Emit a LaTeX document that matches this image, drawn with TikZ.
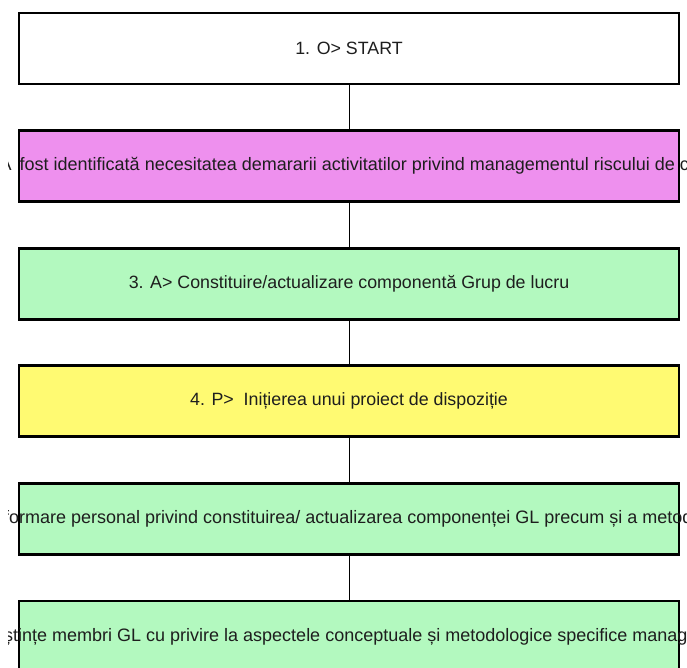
\documentclass[tikz,border=0pt]{standalone}
\usepackage{fontspec}
\setmainfont{Liberation Sans}
\definecolor{boxpink}{HTML}{EE90EE}
\definecolor{boxgreen}{HTML}{B3F9BF}
\definecolor{boxyellow}{HTML}{FFFA72}
\definecolor{txt}{HTML}{1E1E1E}
\begin{document}
\begin{tikzpicture}[x=1pt,y=-1pt,
  stepbox/.style={draw=black, line width=2.4pt, minimum width=660pt, minimum height=71pt, inner sep=0pt, text=txt},
  smalltxt/.style={font=\fontsize{17.8}{20}\selectfont},
  bigtxt/.style={font=\fontsize{18.0}{21}\selectfont, text=txt, inner sep=0pt, anchor=west},
  link/.style={draw=black, line width=1pt}]
\useasboundingbox (0,0) rectangle (687,668);
\clip (0,0) rectangle (687,668);
\node[stepbox, fill=white, smalltxt] (b1) at (349,48.5) {1. O> START};
\node[stepbox, fill=boxpink] (b2) at (349,166) {};
\node[stepbox, fill=boxgreen, smalltxt] (b3) at (349,284) {3. A> Constituire/actualizare componentă Grup de lucru};
\node[stepbox, fill=boxyellow, smalltxt] (b4) at (349,401) {4. P>\ \ Inițierea unui proiect de dispoziție};
\node[stepbox, fill=boxgreen] (b5) at (349,519) {};
\node[stepbox, fill=boxgreen] (b6) at (349,636.5) {};
\draw[link] (b1.south) -- (b2.north);
\draw[link] (b2.south) -- (b3.north);
\draw[link] (b3.south) -- (b4.north);
\draw[link] (b4.south) -- (b5.north);
\draw[link] (b5.south) -- (b6.north);
\begin{scope}
\clip (8,0) rectangle (690,668);
\node[bigtxt] (t2) at (19.5,166) {\llap{A\kern3pt\ }fost identificată necesitatea demararii activitatilor privind managementul riscului de corupție};
\node[bigtxt] (t5) at (9,519) {\llap{Inf}ormare personal privind constituirea/ actualizarea componenței GL precum și a metodologiei};
\node[bigtxt] (t6) at (4,636.5) {\llap{cuno}ștințe membri GL cu privire la aspectele conceptuale și metodologice specifice managementului};
\end{scope}
\end{tikzpicture}
\end{document}
